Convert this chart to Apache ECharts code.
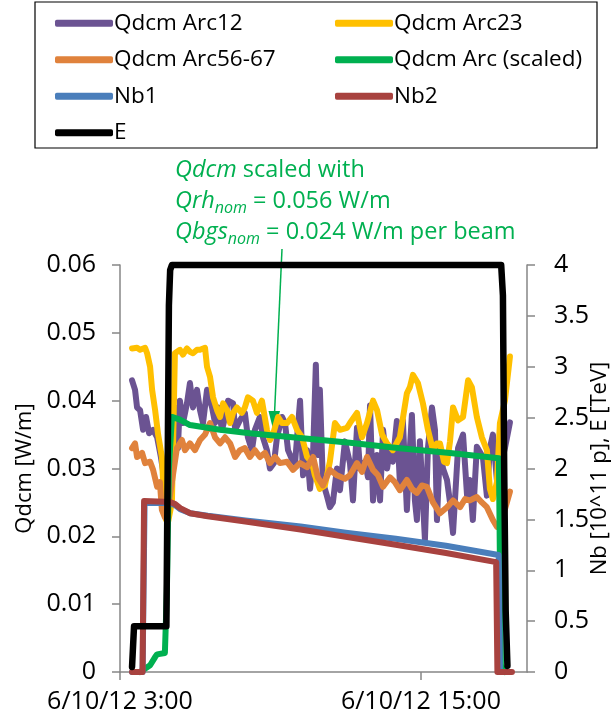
<!DOCTYPE html>
<html>
<head>
<meta charset="utf-8">
<script src="https://cdn.jsdelivr.net/npm/echarts@6/dist/echarts.min.js"></script>
<style>
  html, body { margin: 0; background: #fff; }
  #chart { width: 615px; height: 724px; }
</style>
</head>
<body>
<div id="chart"></div>
<script>
// time in hours of 6/10/12
const xTickHours = [3, 15];

// left axis, W/m
const arc12 = [
  [3.48, 0.043], [3.60, 0.0416], [3.68, 0.039], [3.80, 0.0386], [3.92, 0.0357], [4.04, 0.0376],
  [4.16, 0.0352], [4.32, 0.0357], [4.48, 0.0346], [4.63, 0.0317], [4.71, 0.0298], [4.79, 0.027],
  [4.91, 0.028], [5.07, 0.031], [5.19, 0.039], [5.31, 0.033], [5.39, 0.040], [5.51, 0.0367],
  [5.67, 0.0396], [5.79, 0.0426], [5.91, 0.039], [6.07, 0.0416], [6.19, 0.0386], [6.31, 0.0367],
  [6.47, 0.0416], [6.67, 0.039], [6.79, 0.0367], [6.91, 0.039], [7.07, 0.0357], [7.19, 0.0376],
  [7.31, 0.040], [7.51, 0.0396], [7.59, 0.0357], [7.78, 0.0371], [7.98, 0.0382], [8.10, 0.0346],
  [8.26, 0.0327], [8.38, 0.0357], [8.58, 0.0376], [8.70, 0.0346], [8.86, 0.0327], [8.98, 0.030],
  [9.14, 0.0308], [9.26, 0.0346], [9.46, 0.0376], [9.58, 0.0367], [9.70, 0.0327], [9.86, 0.0313],
  [9.98, 0.0308], [10.18, 0.040], [10.30, 0.029], [10.46, 0.0327], [10.58, 0.027], [10.70, 0.0323],
  [10.81, 0.0453], [10.89, 0.032], [10.97, 0.0416], [11.09, 0.028], [11.25, 0.026], [11.37, 0.0243],
  [11.49, 0.025], [11.65, 0.030], [11.77, 0.0268], [11.97, 0.034], [12.17, 0.0308], [12.29, 0.0253],
  [12.45, 0.036], [12.57, 0.030], [12.77, 0.031], [12.89, 0.0287], [12.97, 0.0393], [13.09, 0.0253],
  [13.25, 0.032], [13.37, 0.0253], [13.49, 0.0357], [13.65, 0.030], [13.77, 0.033], [13.88, 0.031],
  [14.04, 0.037], [14.16, 0.028], [14.28, 0.0371], [14.44, 0.0239], [14.56, 0.033], [14.64, 0.0379],
  [14.76, 0.0253], [14.84, 0.0224], [14.96, 0.034], [15.16, 0.0195], [15.28, 0.033], [15.44, 0.039],
  [15.56, 0.0357], [15.64, 0.0224], [15.76, 0.0332], [15.88, 0.030], [16.04, 0.0283], [16.16, 0.025],
  [16.28, 0.0205], [16.48, 0.033], [16.68, 0.035], [16.84, 0.026], [16.95, 0.0283], [17.07, 0.0224],
  [17.23, 0.0332], [17.47, 0.0317], [17.63, 0.026], [17.75, 0.033], [17.87, 0.035], [18.03, 0.0283],
  [18.15, 0.030], [18.35, 0.033], [18.55, 0.0368]
];

const arc23 = [
  [3.48, 0.0477], [3.68, 0.0478], [3.80, 0.0475], [4.00, 0.0478], [4.08, 0.047], [4.20, 0.045],
  [4.28, 0.0416], [4.40, 0.0386], [4.52, 0.035], [4.67, 0.0317], [4.75, 0.026], [4.83, 0.0225],
  [4.91, 0.022], [5.07, 0.025], [5.19, 0.047], [5.39, 0.0475], [5.51, 0.0468], [5.67, 0.0477],
  [5.79, 0.0472], [5.91, 0.047], [6.07, 0.0475], [6.19, 0.0475], [6.39, 0.0478], [6.47, 0.045],
  [6.59, 0.0435], [6.71, 0.0405], [6.87, 0.0386], [6.99, 0.0376], [7.11, 0.0396], [7.27, 0.0386],
  [7.39, 0.0367], [7.51, 0.0382], [7.66, 0.039], [7.86, 0.0382], [7.98, 0.039], [8.10, 0.0405],
  [8.30, 0.040], [8.46, 0.0382], [8.66, 0.040], [8.86, 0.0357], [8.98, 0.0342], [9.10, 0.035],
  [9.30, 0.0376], [9.46, 0.0367], [9.66, 0.0367], [9.86, 0.0376], [10.06, 0.0357], [10.26, 0.0346],
  [10.46, 0.0317], [10.66, 0.0308], [10.77, 0.029], [10.97, 0.027], [11.17, 0.0275], [11.37, 0.031],
  [11.57, 0.0367], [11.77, 0.0357], [12.05, 0.036], [12.17, 0.0367], [12.45, 0.0382], [12.65, 0.0346],
  [12.85, 0.0367], [13.09, 0.040], [13.25, 0.0386], [13.45, 0.035], [13.65, 0.0337], [13.88, 0.0327],
  [14.16, 0.0346], [14.44, 0.0411], [14.56, 0.042], [14.68, 0.0438], [14.88, 0.0426], [15.08, 0.0396],
  [15.28, 0.0357], [15.48, 0.0327], [15.64, 0.0337], [15.76, 0.0337], [15.92, 0.031], [16.04, 0.0308],
  [16.16, 0.034], [16.28, 0.039], [16.48, 0.0371], [16.68, 0.0376], [16.88, 0.043], [17.03, 0.042],
  [17.23, 0.0376], [17.43, 0.0346], [17.63, 0.0327], [17.75, 0.027], [17.87, 0.0255], [18.03, 0.028],
  [18.15, 0.0367], [18.35, 0.040], [18.55, 0.0465]
];

const arc5667 = [
  [3.48, 0.033], [3.60, 0.0337], [3.68, 0.0317], [3.80, 0.032], [3.88, 0.0323], [4.00, 0.0308],
  [4.20, 0.031], [4.32, 0.0298], [4.48, 0.0273], [4.59, 0.028], [4.67, 0.0239], [4.79, 0.0228],
  [4.91, 0.024], [5.07, 0.028], [5.27, 0.033], [5.47, 0.0342], [5.59, 0.0327], [5.79, 0.0337],
  [5.99, 0.0327], [6.19, 0.0342], [6.39, 0.035], [6.59, 0.0367], [6.79, 0.0346], [6.99, 0.0337],
  [7.19, 0.0346], [7.39, 0.0337], [7.59, 0.0317], [7.78, 0.0327], [7.98, 0.033], [8.18, 0.0317],
  [8.38, 0.0327], [8.58, 0.0317], [8.78, 0.0323], [8.98, 0.0308], [9.18, 0.0317], [9.38, 0.0308],
  [9.66, 0.031], [9.90, 0.0298], [10.18, 0.0308], [10.46, 0.0302], [10.70, 0.0317], [10.89, 0.0287],
  [11.09, 0.0275], [11.37, 0.0298], [11.65, 0.029], [11.97, 0.0285], [12.17, 0.029], [12.45, 0.0308],
  [12.65, 0.0295], [12.85, 0.0317], [13.09, 0.0298], [13.29, 0.029], [13.49, 0.0273], [13.77, 0.0287],
  [13.96, 0.028], [14.16, 0.0268], [14.44, 0.0283], [14.64, 0.027], [14.84, 0.0264], [15.04, 0.0275],
  [15.24, 0.0273], [15.48, 0.025], [15.76, 0.0234], [16.04, 0.0243], [16.28, 0.0253], [16.56, 0.0243],
  [16.76, 0.0255], [16.95, 0.0253], [17.23, 0.0258], [17.43, 0.025], [17.63, 0.0243], [17.87, 0.0224],
  [18.03, 0.0214], [18.23, 0.022], [18.35, 0.024], [18.55, 0.0266]
];

const arcScaled = [
  [3.80, 0], [4.20, 0.001], [4.40, 0.0022], [4.48, 0.0026], [4.79, 0.0028], [4.87, 0.012],
  [4.95, 0.030], [5.07, 0.0376], [5.39, 0.0372], [5.79, 0.0364], [6.99, 0.0357], [8.18, 0.0352],
  [10.18, 0.0345], [12.17, 0.0338], [14.16, 0.033], [16.16, 0.0323], [18.11, 0.0315],
  [18.19, 0.001], [18.35, 0]
];

// right axis, 10^11 p and TeV
const nb1 = [
  [3.48, 0], [3.90, 0], [3.98, 1.66], [5.00, 1.66], [5.20, 1.64], [5.40, 1.60], [5.80, 1.56],
  [6.50, 1.535], [8.00, 1.49], [10.20, 1.43], [12.00, 1.37], [14.00, 1.31], [16.00, 1.24],
  [18.10, 1.15], [18.15, 0], [18.50, 0]
];

const nb2 = [
  [3.48, 0], [3.90, 0], [3.96, 1.68], [5.00, 1.67], [5.20, 1.65], [5.40, 1.61], [5.80, 1.56],
  [6.50, 1.53], [8.00, 1.48], [10.20, 1.40], [12.00, 1.33], [14.00, 1.25], [16.00, 1.17],
  [18.00, 1.08], [18.05, 0], [18.63, 0]
];

const energy = [
  [3.48, 0.05], [3.56, 0.45], [4.85, 0.45], [4.90, 2.0], [4.95, 3.6], [5.00, 3.95], [5.07, 4.0],
  [18.20, 4.0], [18.27, 3.7], [18.32, 2.0], [18.38, 0.6], [18.45, 0.06]
];

const colors = {
  arc12: '#6B5392', arc23: '#FFC000', arc5667: '#E0823C', scaled: '#00B050',
  nb1: '#4A7EBB', nb2: '#A8423F', e: '#000000'
};
const green = '#00B050';
const font = 'Open Sans';
const axisFs = 25;
const nameFs = 22;
const legendFs = 22.5;
const noteFs = 23.5;

const chart = echarts.init(document.getElementById('chart'));

function line(name, data, axis, color, width) {
  return {
    name: name,
    type: 'line',
    yAxisIndex: axis,
    data: data,
    symbol: 'none',
    clip: false,
    color: color,
    lineStyle: { color: color, width: width, cap: 'round', join: 'round' }
  };
}

const legendBase = {
  orient: 'vertical',
  top: 5,
  itemWidth: 58,
  itemHeight: 7,
  itemGap: 10,
  icon: 'roundRect',
  textStyle: { fontFamily: font, fontSize: legendFs, color: '#000', lineHeight: 26.5, padding: [0, 0, 0, -4] }
};

const axisLabelStyle = { fontFamily: font, fontSize: axisFs, color: '#000' };
const greyLine = { color: '#868686', width: 1.5 };

const option = {
  animation: false,
  backgroundColor: '#fff',
  grid: { left: 120, right: 88, top: 265, bottom: 52, containLabel: false, outerBoundsMode: 'none' },
  legend: [
    Object.assign({}, legendBase, { left: 50, data: ['Qdcm Arc12', 'Qdcm Arc56-67', 'Nb1', 'E'] }),
    Object.assign({}, legendBase, { left: 330, data: ['Qdcm Arc23', 'Qdcm Arc (scaled)', 'Nb2'] })
  ],
  xAxis: {
    type: 'value',
    min: 3,
    max: 19.23,
    splitLine: { show: false },
    axisLine: { lineStyle: greyLine },
    axisTick: { customValues: xTickHours, length: 8, lineStyle: greyLine },
    axisLabel: Object.assign({
      customValues: xTickHours,
      formatter: v => '6/10/12 ' + v + ':00',
      margin: 17
    }, axisLabelStyle)
  },
  yAxis: [
    {
      type: 'value',
      min: 0, max: 0.06, interval: 0.01,
      name: 'Qdcm [W/m]',
      nameLocation: 'middle',
      nameRotate: 90,
      nameGap: 84,
      nameMoveOverlap: false,
      nameTextStyle: { fontFamily: font, fontSize: nameFs, color: '#000' },
      splitLine: { show: false },
      axisLine: { show: true, lineStyle: greyLine },
      axisTick: { show: true, length: 8, lineStyle: greyLine },
      axisLabel: Object.assign({ margin: 24 }, axisLabelStyle)
    },
    {
      type: 'value',
      position: 'right',
      min: 0, max: 4, interval: 0.5,
      name: 'Nb [10^11 p], E [TeV]',
      nameLocation: 'middle',
      nameRotate: 90,
      nameGap: 62,
      nameMoveOverlap: false,
      nameTextStyle: { fontFamily: font, fontSize: nameFs, color: '#000' },
      splitLine: { show: false },
      axisLine: { show: true, lineStyle: greyLine },
      axisTick: { show: true, length: 8, lineStyle: greyLine },
      axisLabel: Object.assign({ margin: 27 }, axisLabelStyle)
    }
  ],
  series: [
    line('Qdcm Arc12', arc12, 0, colors.arc12, 6),
    line('Qdcm Arc23', arc23, 0, colors.arc23, 6),
    line('Qdcm Arc56-67', arc5667, 0, colors.arc5667, 6),
    line('Qdcm Arc (scaled)', arcScaled, 0, colors.scaled, 6),
    line('Nb1', nb1, 1, colors.nb1, 6),
    line('Nb2', nb2, 1, colors.nb2, 6),
    line('E', energy, 1, colors.e, 6.5)
  ],
  graphic: [
    {
      type: 'rect',
      shape: { x: 35, y: 2, width: 562, height: 146 },
      style: { fill: 'none', stroke: '#000', lineWidth: 1.2 },
      silent: true
    },
    {
      type: 'text',
      left: 175,
      top: 158,
      style: {
        text: '{i|Qdcm}{n| scaled with}\n{i|Qrh}{s|nom}{n| = 0.056 W/m}\n{i|Qbgs}{s|nom}{n| = 0.024 W/m per beam}',
        fill: green,
        rich: {
          i: { fontFamily: font, fontSize: noteFs, fontStyle: 'italic', lineHeight: 31, fill: green },
          n: { fontFamily: font, fontSize: noteFs, lineHeight: 31, fill: green },
          s: { fontFamily: font, fontSize: 16, fontStyle: 'italic', lineHeight: 17, verticalAlign: 'bottom', fill: green }
        }
      }
    },
    {
      type: 'line',
      shape: { x1: 282, y1: 249, x2: 274.5, y2: 414 },
      style: { stroke: green, lineWidth: 1.5 },
      silent: true
    },
    {
      type: 'polygon',
      shape: { points: [[268.5, 411], [280, 411], [274, 433]] },
      style: { fill: green },
      silent: true
    }
  ]
};

chart.setOption(option);
</script>
</body>
</html>
